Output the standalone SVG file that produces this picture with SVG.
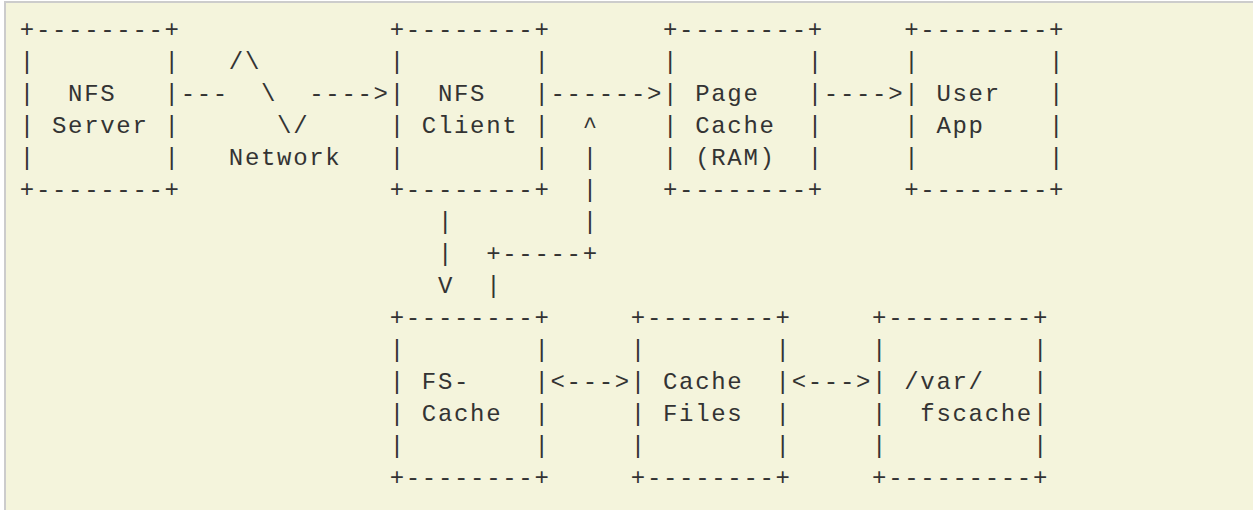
<svg xmlns="http://www.w3.org/2000/svg" width="1253" height="510" viewBox="0 0 1253 510">
  <style>
    .t { font-family: "Liberation Mono", "Courier New", monospace; font-size: 24px; letter-spacing: 1.68px; fill: #333333; white-space: pre; }
  </style>
  <!-- panel: beige page with a thin grey rule on the top and left -->
  <rect x="0" y="0" width="1253" height="510" fill="#ffffff"/>
  <rect x="4" y="1" width="1249" height="509" fill="#cccccc"/>
  <rect x="6" y="3" width="1247" height="507" fill="#f4f4dc"/>

  <!-- grid: column c at x = 19 + 16.08*c, row r baseline at y = 37.5 + 32*r;
       the shift centres the narrower glyphs in their 16.08px cells -->
  <g transform="translate(0.84,-0.8)">

  <g id="nfs-server">
    <text class="t" xml:space="preserve" x="19" y="37.5">+--------+</text>
    <text class="t" xml:space="preserve" x="19" y="69.5">|        |</text>
    <text class="t" xml:space="preserve" x="19" y="101.5">|  NFS   |</text>
    <text class="t" xml:space="preserve" x="19" y="133.5">| Server |</text>
    <text class="t" xml:space="preserve" x="19" y="165.5">|        |</text>
    <text class="t" xml:space="preserve" x="19" y="197.5">+--------+</text>
  </g>

  <g id="nfs-client">
    <text class="t" xml:space="preserve" x="388.84" y="37.5">+--------+</text>
    <text class="t" xml:space="preserve" x="388.84" y="69.5">|        |</text>
    <text class="t" xml:space="preserve" x="388.84" y="101.5">|  NFS   |</text>
    <text class="t" xml:space="preserve" x="388.84" y="133.5">| Client |</text>
    <text class="t" xml:space="preserve" x="388.84" y="165.5">|        |</text>
    <text class="t" xml:space="preserve" x="388.84" y="197.5">+--------+</text>
  </g>

  <g id="page-cache">
    <text class="t" xml:space="preserve" x="662.2" y="37.5">+--------+</text>
    <text class="t" xml:space="preserve" x="662.2" y="69.5">|        |</text>
    <text class="t" xml:space="preserve" x="662.2" y="101.5">| Page   |</text>
    <text class="t" xml:space="preserve" x="662.2" y="133.5">| Cache  |</text>
    <text class="t" xml:space="preserve" x="662.2" y="165.5">| (RAM)  |</text>
    <text class="t" xml:space="preserve" x="662.2" y="197.5">+--------+</text>
  </g>

  <g id="user-app">
    <text class="t" xml:space="preserve" x="903.4" y="37.5">+--------+</text>
    <text class="t" xml:space="preserve" x="903.4" y="69.5">|        |</text>
    <text class="t" xml:space="preserve" x="903.4" y="101.5">| User   |</text>
    <text class="t" xml:space="preserve" x="903.4" y="133.5">| App    |</text>
    <text class="t" xml:space="preserve" x="903.4" y="165.5">|        |</text>
    <text class="t" xml:space="preserve" x="903.4" y="197.5">+--------+</text>
  </g>

  <g id="fs-cache">
    <text class="t" xml:space="preserve" x="388.84" y="325.5">+--------+</text>
    <text class="t" xml:space="preserve" x="388.84" y="357.5">|        |</text>
    <text class="t" xml:space="preserve" x="388.84" y="389.5">| FS-    |</text>
    <text class="t" xml:space="preserve" x="388.84" y="421.5">| Cache  |</text>
    <text class="t" xml:space="preserve" x="388.84" y="453.5">|        |</text>
    <text class="t" xml:space="preserve" x="388.84" y="485.5">+--------+</text>
  </g>

  <g id="cache-files">
    <text class="t" xml:space="preserve" x="630.04" y="325.5">+--------+</text>
    <text class="t" xml:space="preserve" x="630.04" y="357.5">|        |</text>
    <text class="t" xml:space="preserve" x="630.04" y="389.5">| Cache  |</text>
    <text class="t" xml:space="preserve" x="630.04" y="421.5">| Files  |</text>
    <text class="t" xml:space="preserve" x="630.04" y="453.5">|        |</text>
    <text class="t" xml:space="preserve" x="630.04" y="485.5">+--------+</text>
  </g>

  <g id="var-fscache">
    <text class="t" xml:space="preserve" x="871.24" y="325.5">+---------+</text>
    <text class="t" xml:space="preserve" x="871.24" y="357.5">|         |</text>
    <text class="t" xml:space="preserve" x="871.24" y="389.5">| /var/   |</text>
    <text class="t" xml:space="preserve" x="871.24" y="421.5">|  fscache|</text>
    <text class="t" xml:space="preserve" x="871.24" y="453.5">|         |</text>
    <text class="t" xml:space="preserve" x="871.24" y="485.5">+---------+</text>
  </g>

  <g id="connectors">
    <!-- server to client across the network zig-zag -->
    <text class="t" xml:space="preserve" x="228.04" y="69.5">/\</text>
    <text class="t" xml:space="preserve" x="179.8" y="101.5">---</text>
    <text class="t" xml:space="preserve" x="260.2" y="101.5">\</text>
    <text class="t" xml:space="preserve" x="308.44" y="101.5">----&gt;</text>
    <text class="t" xml:space="preserve" x="276.28" y="133.5">\/</text>
    <text class="t" xml:space="preserve" x="228.04" y="165.5">Network</text>
    <!-- client to page cache, page cache to user app -->
    <text class="t" xml:space="preserve" x="549.64" y="101.5">------&gt;</text>
    <text class="t" xml:space="preserve" x="823" y="101.5">----&gt;</text>
    <!-- client down to fs-cache, fs-cache back up to page cache path -->
    <text class="t" xml:space="preserve" x="581.8" y="133.5">^</text>
    <text class="t" xml:space="preserve" x="581.8" y="165.5">|</text>
    <text class="t" xml:space="preserve" x="581.8" y="197.5">|</text>
    <text class="t" xml:space="preserve" x="437.08" y="229.5">|</text>
    <text class="t" xml:space="preserve" x="581.8" y="229.5">|</text>
    <text class="t" xml:space="preserve" x="437.08" y="261.5">|</text>
    <text class="t" xml:space="preserve" x="485.32" y="261.5">+-----+</text>
    <text class="t" xml:space="preserve" x="437.08" y="293.5">V</text>
    <text class="t" xml:space="preserve" x="485.32" y="293.5">|</text>
    <!-- cache layers -->
    <text class="t" xml:space="preserve" x="549.64" y="389.5">&lt;---&gt;</text>
    <text class="t" xml:space="preserve" x="790.84" y="389.5">&lt;---&gt;</text>
  </g>

  </g>
</svg>
